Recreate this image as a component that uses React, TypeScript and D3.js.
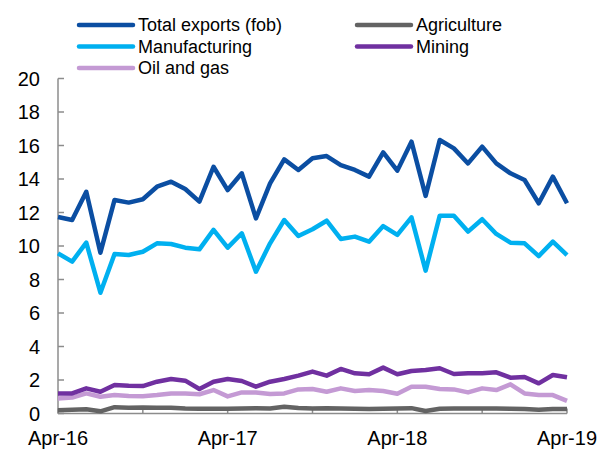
import * as d3 from "d3";
import React from "react";

const months = d3.range(37); // Apr-16 .. Apr-19, monthly
const xTickLabels = ["Apr-16", "Apr-17", "Apr-18", "Apr-19"];
const yTicks = [0, 2, 4, 6, 8, 10, 12, 14, 16, 18, 20];

const totalExports = [
  11.73, 11.55, 13.24, 9.6, 12.75, 12.59, 12.79, 13.54, 13.84, 13.4, 12.65,
  14.73, 13.34, 14.34, 11.65, 13.74, 15.17, 14.54, 15.24, 15.37, 14.83, 14.54,
  14.14, 15.59, 14.5, 16.23, 12.99, 16.33, 15.83, 14.93, 15.93, 14.93, 14.34,
  13.94, 12.55, 14.14, 12.55,
];
const manufacturing = [
  9.56, 9.07, 10.2, 7.21, 9.52, 9.46, 9.66, 10.16, 10.12, 9.9, 9.8, 10.96, 9.9,
  10.76, 8.47, 10.16, 11.55, 10.6, 11.0, 11.51, 10.42, 10.56, 10.26, 11.19,
  10.66, 11.71, 8.53, 11.81, 11.81, 10.86, 11.6, 10.72, 10.2, 10.16, 9.4, 10.26,
  9.46,
];
const mining = [
  1.2, 1.2, 1.5, 1.3, 1.7, 1.66, 1.64, 1.9, 2.06, 1.96, 1.46, 1.9, 2.06, 1.94,
  1.6, 1.9, 2.06, 2.26, 2.5, 2.26, 2.66, 2.4, 2.34, 2.74, 2.34, 2.54, 2.6, 2.7,
  2.36, 2.4, 2.4, 2.46, 2.14, 2.18, 1.8, 2.3, 2.16,
];
const oilAndGas = [
  0.9, 0.95, 1.2, 1.0, 1.1, 1.05, 1.03, 1.1, 1.2, 1.2, 1.15, 1.4, 1.02, 1.26,
  1.26, 1.16, 1.2, 1.44, 1.46, 1.3, 1.5, 1.34, 1.4, 1.34, 1.18, 1.6, 1.6, 1.46,
  1.44, 1.26, 1.5, 1.4, 1.74, 1.2, 1.1, 1.1, 0.75,
];
const agriculture = [
  0.2, 0.22, 0.25, 0.13, 0.38, 0.35, 0.36, 0.35, 0.35, 0.3, 0.28, 0.28, 0.28,
  0.3, 0.32, 0.3, 0.4, 0.33, 0.3, 0.32, 0.3, 0.28, 0.27, 0.28, 0.3, 0.32, 0.15,
  0.28, 0.3, 0.3, 0.3, 0.3, 0.28, 0.27, 0.22, 0.27, 0.27,
];

const series = [
  { name: "Agriculture", values: agriculture, color: "#636363" },
  { name: "Oil and gas", values: oilAndGas, color: "#c49ad4" },
  { name: "Mining", values: mining, color: "#7030a0" },
  { name: "Manufacturing", values: manufacturing, color: "#00b0f0" },
  { name: "Total exports (fob)", values: totalExports, color: "#0b4ea2" },
];

// legend order as it appears (two columns)
const legendItems = [
  { name: "Total exports (fob)", color: "#0b4ea2", col: 0, row: 0 },
  { name: "Agriculture", color: "#636363", col: 1, row: 0 },
  { name: "Manufacturing", color: "#00b0f0", col: 0, row: 1 },
  { name: "Mining", color: "#7030a0", col: 1, row: 1 },
  { name: "Oil and gas", color: "#c49ad4", col: 0, row: 2 },
];

const FONT = "'Liberation Sans', Arial, sans-serif";

const App: React.FC = () => {
  const width = 606;
  const height = 452;
  const margin = { top: 78.5, right: 39, bottom: 38.5, left: 58 };

  const x = d3
    .scaleLinear()
    .domain([0, 36])
    .range([margin.left, width - margin.right]);
  const y = d3
    .scaleLinear()
    .domain([0, 20])
    .range([height - margin.bottom, margin.top]);

  const line = d3
    .line<number>()
    .x((_, i) => x(i))
    .y((d) => y(d));

  const axisColor = "#8c8c8c";
  const x0 = x(0);
  const yBase = y(0);

  return (
    <svg
      width={width}
      height={height}
      style={{ position: "absolute", left: 0, top: 0, background: "#fff" }}
      fontFamily={FONT}
    >
      {/* Legend */}
      {legendItems.map((d) => {
        const lx = d.col === 0 ? 79 : 357;
        const ly = 25 + d.row * 21.5;
        return (
          <g key={d.name}>
            <line
              x1={lx}
              x2={lx + 54}
              y1={ly}
              y2={ly}
              stroke={d.color}
              strokeWidth={4.5}
              strokeLinecap="round"
            />
            <text
              x={lx + 59}
              y={ly}
              dy="0.35em"
              fontSize={18}
              fill="#000"
            >
              {d.name}
            </text>
          </g>
        );
      })}

      {/* Y axis */}
      <line
        x1={x0}
        x2={x0}
        y1={y(20)}
        y2={yBase}
        stroke={axisColor}
        strokeWidth={1.5}
      />
      {yTicks.map((t) => (
        <g key={t}>
          <line
            x1={x0}
            x2={x0 + 6}
            y1={y(t)}
            y2={y(t)}
            stroke={axisColor}
            strokeWidth={1.5}
          />
          <text
            x={40}
            y={y(t)}
            dy="0.35em"
            textAnchor="end"
            fontSize={20}
            fill="#000"
          >
            {t}
          </text>
        </g>
      ))}

      {/* X axis */}
      <line
        x1={x0}
        x2={x(36)}
        y1={yBase}
        y2={yBase}
        stroke={axisColor}
        strokeWidth={1.5}
      />
      {months
        .filter((m) => m % 6 === 0)
        .map((m) => (
          <line
            key={m}
            x1={x(m)}
            x2={x(m)}
            y1={yBase}
            y2={yBase - 5}
            stroke={axisColor}
            strokeWidth={1.5}
          />
        ))}
      {xTickLabels.map((lab, i) => (
        <text
          key={lab}
          x={x(i * 12)}
          y={438}
          dy="0.35em"
          textAnchor="middle"
          fontSize={20}
          fill="#000"
        >
          {lab}
        </text>
      ))}

      {/* Lines */}
      {series.map((s) => (
        <path
          key={s.name}
          d={line(s.values) ?? ""}
          fill="none"
          stroke={s.color}
          strokeWidth={4.5}
          strokeLinejoin="round"
        />
      ))}
    </svg>
  );
};

export default App;
